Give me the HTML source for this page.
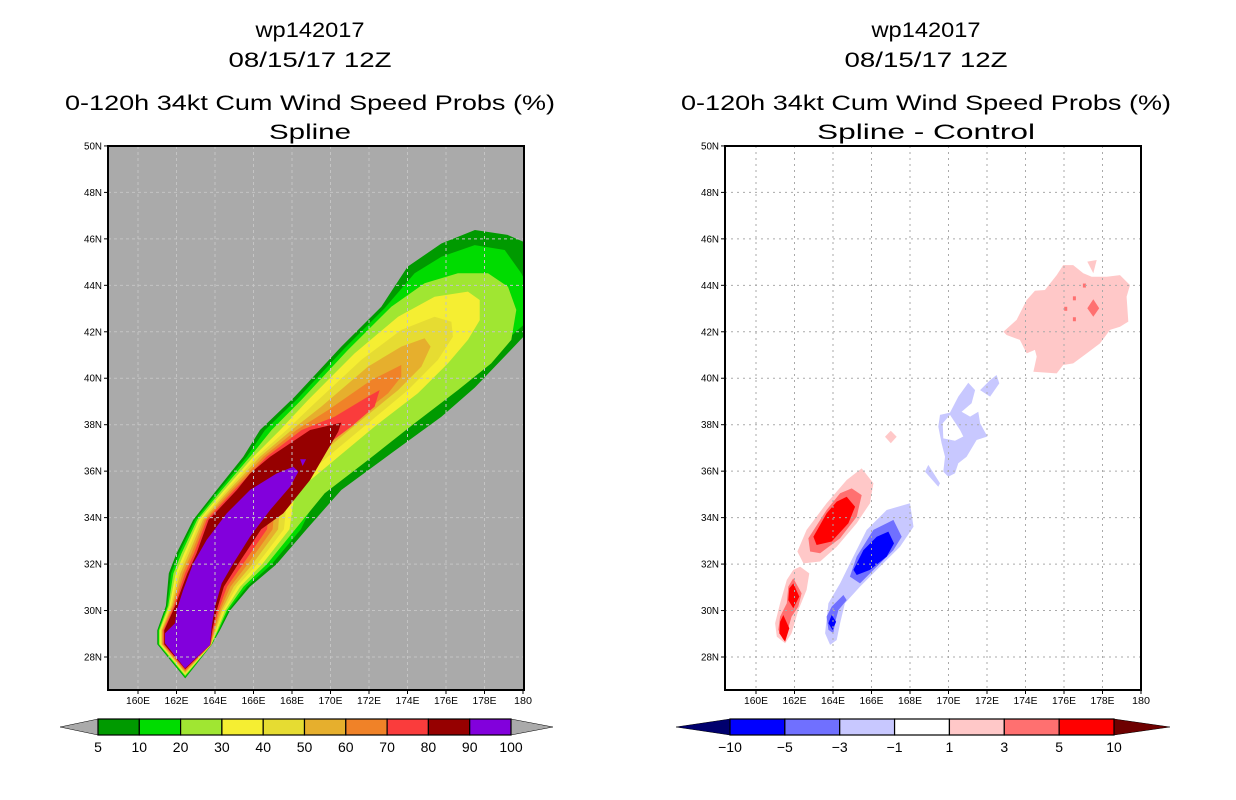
<!DOCTYPE html>
<html><head><meta charset="utf-8"><style>
html,body{margin:0;padding:0;background:#fff;}
svg{display:block;font-family:"Liberation Sans",sans-serif;}
</style></head><body>
<svg id="c" width="1236" height="800" xmlns="http://www.w3.org/2000/svg"></svg>
<script>
// ---- data ----
const latTicks=[28,30,32,34,36,38,40,42,44,46,48,50];
const lonTicks=[160,162,164,166,168,170,172,174,176,178,180];
const leftLevels=["5","10","20","30","40","50","60","70","80","90","100"];
const leftColors=["#009a00","#00dc00","#a0e632","#f5ee32","#e6dc32","#e6af2d","#f08228","#fa3c3c","#960000","#8200dc"];
const rightLevels=["-10","-5","-3","-1","1","3","5","10"];
const rightColors=["#0000ff","#7070ff","#c8c8ff","#ffffff","#ffc8c8","#ff7070","#ff0000"];
// contour polygons [lon,lat]
const c5=[[162.45,27.08],[161.0,28.55],[161.0,29.15],[161.45,30.2],[161.6,31.6],[162.0,32.46],[162.87,33.9],[164.09,35.19],[165.47,36.62],[166.34,37.77],[168.14,39.2],[170.56,41.36],[172.64,43.08],[174.0,44.8],[175.76,45.8],[177.5,46.38],[179.2,46.17],[180.5,45.7],[180.5,42.2],[179.2,41.07],[177.5,39.6],[175.76,38.34],[173.16,36.77],[170.56,35.19],[168.76,33.5],[167.2,32.0],[165.82,31.03],[164.78,30.0],[164.26,29.16],[163.83,28.52]];
const c10=[[162.45,27.13],[161.05,28.55],[161.05,29.15],[161.51,30.2],[161.72,31.6],[162.13,32.46],[162.97,33.9],[164.22,35.19],[165.65,36.62],[166.6,37.77],[168.31,39.14],[170.73,41.29],[172.81,43.01],[174.37,44.52],[175.76,45.23],[177.49,45.73],[179.05,45.52],[179.91,44.52],[180.5,43.51],[180.3,42.5],[178.35,41.07],[175.76,39.35],[173.16,37.77],[169.7,35.62],[168.46,33.5],[166.95,32.0],[165.65,31.03],[164.69,30.0],[164.21,29.16],[163.82,28.52]];
const c20=[[162.45,27.18],[161.09,28.55],[161.09,29.15],[161.57,30.2],[161.84,31.6],[162.26,32.46],[163.07,33.9],[164.35,35.19],[165.82,36.62],[166.94,37.77],[168.48,39.06],[170.91,41.22],[173.16,43.08],[174.89,44.09],[176.62,44.52],[178.18,44.52],[179.22,43.94],[179.65,42.94],[179.39,41.65],[178.35,40.64],[176.62,39.49],[174.37,38.06],[171.95,36.48],[169.7,35.05],[168.17,33.5],[166.7,32.0],[165.48,31.03],[164.61,30.0],[164.16,29.16],[163.81,28.52]];
const c30=[[162.45,27.23],[161.14,28.55],[161.14,29.15],[161.63,30.2],[161.96,31.6],[162.39,32.46],[163.17,33.9],[164.48,35.19],[165.99,36.62],[167.38,37.77],[168.83,39.06],[171.25,41.07],[173.51,42.65],[175.41,43.51],[177.14,43.73],[177.75,43.37],[177.75,42.5],[177.14,41.65],[176.1,40.64],[174.54,39.35],[172.29,37.92],[170.21,36.48],[168.14,35.05],[167.87,33.5],[166.45,32.0],[165.31,31.03],[164.52,30.0],[164.11,29.16],[163.8,28.52]];
const c40=[[162.45,27.28],[161.18,28.55],[161.18,29.15],[161.69,30.2],[162.08,31.6],[162.52,32.46],[163.27,33.9],[164.61,35.19],[166.16,36.62],[167.72,37.77],[169.18,38.92],[171.6,40.79],[173.68,42.08],[175.41,42.65],[176.28,42.43],[176.36,41.79],[175.58,40.79],[174.02,39.49],[171.95,38.06],[169.87,36.63],[167.79,35.12],[167.58,33.5],[166.2,32.0],[165.14,31.03],[164.43,30.0],[164.06,29.16],[163.79,28.52]];
const c50=[[162.45,27.33],[161.23,28.55],[161.23,29.15],[161.75,30.2],[162.2,31.6],[162.65,32.46],[163.37,33.9],[164.74,35.19],[166.34,36.62],[167.98,37.77],[169.52,38.78],[171.95,40.5],[173.68,41.36],[174.89,41.72],[175.2,41.36],[174.72,40.5],[173.51,39.49],[171.6,38.2],[169.52,36.77],[167.44,35.19],[167.28,33.5],[165.95,32.0],[164.97,31.03],[164.35,30.0],[164.01,29.16],[163.78,28.52]];
const c60=[[162.45,27.38],[161.27,28.55],[161.27,29.15],[161.81,30.2],[162.32,31.6],[162.78,32.46],[163.47,33.9],[164.87,35.19],[166.51,36.62],[168.24,37.77],[169.87,38.63],[172.12,39.92],[173.68,40.57],[173.68,40.07],[172.99,39.35],[171.25,38.2],[169.18,36.77],[167.18,35.19],[166.99,33.5],[165.7,32.0],[164.8,31.03],[164.26,30.0],[163.96,29.16],[163.77,28.52]];
const c70=[[162.45,27.43],[161.32,28.55],[161.32,29.15],[161.87,30.2],[162.44,31.6],[162.91,32.46],[163.57,33.9],[165.0,35.19],[166.68,36.62],[168.5,37.77],[170.22,38.35],[171.95,39.21],[172.55,39.49],[172.29,38.78],[171.08,37.92],[169.0,36.63],[166.93,35.12],[166.7,33.5],[165.45,32.0],[164.63,31.03],[164.17,30.0],[163.91,29.16],[163.76,28.52]];
const c80=[[162.45,27.48],[161.36,28.55],[161.36,29.15],[161.93,30.2],[162.56,31.6],[163.04,32.46],[163.67,33.9],[165.13,35.19],[165.82,35.9],[166.86,36.62],[168.94,37.77],[170.56,38.09],[170.4,37.7],[168.94,35.62],[167.55,34.18],[166.4,33.5],[165.2,32.0],[164.46,31.03],[164.09,30.0],[163.86,29.16],[163.75,28.52]];
const c90=[[162.44,27.51],[161.4,28.59],[161.4,29.02],[161.92,29.45],[162.01,30.02],[162.35,30.89],[162.87,32.03],[163.57,33.04],[164.61,34.18],[165.82,35.19],[167.2,35.9],[168.07,36.19],[168.33,35.98],[167.9,35.33],[166.86,34.33],[165.82,33.18],[164.95,32.03],[164.35,31.17],[164.0,30.17],[163.83,29.31],[163.74,28.52]];
const c90b=[[168.42,36.51],[168.73,36.51],[168.55,36.22]];
const leftContours=[c5,c10,c20,c30,c40,c50,c60,c70,c80,c90,c90b];
const leftContourLevel=[0,1,2,3,4,5,6,7,8,9,9];
// difference panel polygons (level index into rightColors)
const dPinkA=[[165.49,36.12],[166.1,35.48],[165.92,34.62],[165.23,33.76],[164.19,32.75],[163.33,32.11],[162.46,32.03],[162.15,32.54],[162.63,33.47],[163.67,34.62],[164.71,35.62]];
const dMidA=[[164.97,35.26],[165.49,34.97],[165.23,34.04],[164.37,33.11],[163.33,32.47],[162.81,32.54],[162.72,33.11],[163.67,34.33],[164.37,35.05]];
const dRedA=[[164.71,34.9],[165.15,34.47],[164.8,33.76],[163.93,32.97],[163.15,32.82],[162.98,33.18],[163.67,34.18],[164.19,34.69]];
const dPinkB=[[162.29,31.89],[162.77,31.6],[162.63,30.89],[162.2,30.02],[161.85,29.02],[161.51,28.59],[161.08,28.88],[160.99,29.45],[161.25,30.31],[161.6,31.32],[161.94,31.75]];
const dMidB=[[161.94,31.39],[162.37,30.74],[162.2,30.17],[161.85,29.74],[161.6,29.02],[161.42,28.73],[161.16,29.17],[161.25,29.74],[161.6,30.31],[161.68,31.03]];
const dRedB1=[[161.94,31.17],[162.25,30.6],[161.94,30.1],[161.68,30.45],[161.73,30.96]];
const dRedB2=[[161.42,29.81],[161.73,29.24],[161.51,28.66],[161.21,29.02],[161.25,29.52]];
const dLBlue=[[168.0,34.62],[168.18,33.61],[167.48,32.75],[166.27,31.75],[165.4,31.03],[164.62,30.31],[164.37,29.45],[164.19,28.73],[163.85,28.52],[163.59,29.02],[163.76,30.31],[164.37,31.17],[164.97,32.18],[165.75,33.47],[166.79,34.33]];
const dMBlue=[[167.14,33.9],[167.57,33.18],[167.14,32.6],[165.92,31.6],[165.4,31.17],[164.88,31.46],[165.23,32.32],[166.1,33.47]];
const dMBlue2=[[164.54,30.67],[164.71,30.45],[164.28,30.02],[164.1,29.45],[164.02,29.02],[163.76,29.17],[163.67,29.74],[163.93,30.17]];
const dBlue=[[166.88,33.4],[167.17,32.89],[166.79,32.32],[165.92,31.75],[165.23,31.53],[165.06,31.75],[165.58,32.6],[166.27,33.18]];
const dBlue2=[[163.93,29.81],[164.16,29.52],[163.98,29.16],[163.76,29.45]];
const dDiamond=[[167.0,37.74],[167.31,37.48],[167.0,37.2],[166.7,37.48]];
const dPinkC=[[172.85,42.0],[173.54,42.51],[174.06,43.37],[174.49,43.77],[175.01,43.8],[175.62,44.44],[175.96,44.87],[176.48,44.87],[177.0,44.52],[177.44,44.37],[178.22,44.37],[178.91,44.44],[179.43,44.01],[179.25,43.51],[179.34,42.44],[178.91,42.22],[178.39,42.08],[177.87,41.5],[177.18,41.07],[176.48,40.64],[175.96,40.57],[175.62,40.21],[174.41,40.28],[174.58,40.93],[174.49,41.22],[174.06,41.07],[173.71,41.65],[173.02,41.86]];
const dPinkTri=[[177.21,45.02],[177.7,45.09],[177.52,44.52]];
const dMidC=[[177.52,43.4],[177.83,43.01],[177.52,42.65],[177.21,43.01]];
const dLB1=[[172.5,40.14],[172.64,39.78],[172.16,39.21],[171.64,39.49],[172.16,39.92]];
const dLB2=[[171.03,39.81],[171.38,39.49],[171.2,38.92],[170.68,38.56],[171.12,38.35],[171.55,38.56],[171.64,38.06],[172.02,37.49],[171.46,37.34],[170.94,36.62],[170.51,36.34],[170.34,35.91],[169.99,35.76],[169.73,35.98],[169.82,36.62],[169.64,37.2],[169.47,37.92],[169.56,38.42],[170.08,38.52],[170.51,39.21]];
const dHole=[[170.08,38.42],[170.6,37.77],[170.77,37.49],[170.34,37.31],[169.73,37.41],[169.7,38.06]];
const dLB3=[[168.95,36.27],[169.56,35.48],[169.47,35.33],[168.78,35.98]];
const rightContours=[dPinkA,dMidA,dRedA,dPinkB,dMidB,dRedB1,dRedB2,dLBlue,dMBlue,dMBlue2,dBlue,dBlue2,dDiamond,dPinkC,dPinkTri,dMidC,dLB1,dLB2,dHole,dLB3];
const rightContourLevel=[4,5,6,4,5,6,6,2,1,1,0,0,4,4,4,5,2,2,3,2];
const redDots=[[177.06,43.99],[176.54,43.44],[176.09,42.99],[176.54,42.54]];

// ---- drawing ----
const NS="http://www.w3.org/2000/svg";
const svg=document.getElementById('c');
function mk(t,a,p){const e=document.createElementNS(NS,t);for(const k in a)e.setAttribute(k,a[k]);(p||svg).appendChild(e);return e;}
const LON0=160,PXDEG=19.25,LAT0=28,PYDEG=23.23,Y28=657;
function panel(x160,left){
  return {x:lon=>x160+(lon-LON0)*PXDEG, y:lat=>Y28-(lat-LAT0)*PYDEG, left:left, right:left+416, top:146, bottom:690};
}
const P1=panel(138,108), P2=panel(756,725);
function ptsStr(P,poly){return poly.map(p=>P.x(p[0]).toFixed(1)+','+P.y(p[1]).toFixed(1)).join(' ');}
function title(cx,lines){
  const ys=[37,67,110,139];
  lines.forEach((t,i)=>{
    const w=t.length*13.6;
    const e=mk('text',{x:cx,y:ys[i],'text-anchor':'middle','font-size':'21','textLength':w.toFixed(0),'lengthAdjust':'spacingAndGlyphs',fill:'#000'});
    e.textContent=t;
    
    
  });
}
function axes(P,gridStyle,name){
  const g=mk('g',{});
  
  
  lonTicks.forEach(l=>{
    const x=P.x(l);
    if(l<180){const gl=mk('line',Object.assign({x1:x,y1:P.top,x2:x,y2:P.bottom},gridStyle),g);
      }
    mk('line',{x1:x,y1:P.bottom,x2:x,y2:P.bottom+4,stroke:'#000','stroke-width':1},g);
    const lab=(l===180?'180':l+'E');
    const t=mk('text',{x:x,y:P.bottom+14,'text-anchor':'middle','font-size':'10',textLength:String(lab.length*6),lengthAdjust:'spacingAndGlyphs'},g);
    t.textContent=lab;
    
    
  });
  latTicks.forEach(l=>{
    const y=P.y(l);
    if(l<50){const gl=mk('line',Object.assign({x1:P.left,y1:y,x2:P.right,y2:y},gridStyle),g);
      }
    mk('line',{x1:P.left-4,y1:y,x2:P.left,y2:y,stroke:'#000','stroke-width':1},g);
    const t=mk('text',{x:P.left-6,y:y+3.5,'text-anchor':'end','font-size':'10',textLength:'18',lengthAdjust:'spacingAndGlyphs'},g);
    t.textContent=l+'N';
    
    
  });
}
function frame(P,name){
  const r=mk('rect',{x:P.left,y:P.top,width:P.right-P.left,height:P.bottom-P.top,fill:'none',stroke:'#000','stroke-width':2});
  
  
}
const defs=mk('defs',{});
[[P1,'clip1'],[P2,'clip2']].forEach(([P,id])=>{const cp=mk('clipPath',{id:id},defs);mk('rect',{x:P.left,y:P.top,width:P.right-P.left,height:P.bottom-P.top},cp);});

// Left panel
title(310,['wp142017','08/15/17 12Z','0-120h 34kt Cum Wind Speed Probs (%)','Spline']);
const bg1=mk('rect',{x:P1.left,y:P1.top,width:P1.right-P1.left,height:P1.bottom-P1.top,fill:'#aaaaaa'});


const g1=mk('g',{'clip-path':'url(#clip1)'});


leftContours.forEach((poly,i)=>{
  const e=mk('polygon',{points:ptsStr(P1,poly),fill:leftColors[leftContourLevel[i]]},g1);
  
  
});
axes(P1,{stroke:'#c4c4c4','stroke-width':1,'stroke-dasharray':'3,3'},'left');
frame(P1,'left-plot');

// Right panel
title(926,['wp142017','08/15/17 12Z','0-120h 34kt Cum Wind Speed Probs (%)','Spline - Control']);
const g2=mk('g',{'clip-path':'url(#clip2)'});


axes(P2,{stroke:'#aaaaaa','stroke-width':1,'stroke-dasharray':'2,4'},'right');
rightContours.forEach((poly,i)=>{
  const e=mk('polygon',{points:ptsStr(P2,poly),fill:rightColors[rightContourLevel[i]]},g2);
  
  
});
redDots.forEach(d=>{
  const e=mk('rect',{x:P2.x(d[0])-1.5,y:P2.y(d[1])-2,width:3,height:4,fill:rightColors[5]},g2);
  
  
});
frame(P2,'right-plot');

// Colorbars
function colorbar(x0,x1,tl,tr,colors,labels,lc,rc,name){
  const g=mk('g',{});
  
  
  const y0=719,y1=735,ym=727,n=colors.length,w=(x1-x0)/n;
  const a=mk('polygon',{points:`${tl},${ym} ${x0},${y0} ${x0},${y1}`,fill:lc,stroke:'#000','stroke-width':0.5},g);
  
  const b=mk('polygon',{points:`${tr},${ym} ${x1},${y0} ${x1},${y1}`,fill:rc,stroke:'#000','stroke-width':0.5},g);
  
  colors.forEach((c,i)=>{
    const r=mk('rect',{x:x0+i*w,y:y0,width:w,height:y1-y0,fill:c,stroke:'#000','stroke-width':1.2},g);
    
    
  });
  labels.forEach((l,i)=>{
    const t=mk('text',{x:x0+i*w,y:752,'text-anchor':'middle','font-size':'14'},g);
    t.textContent=l.replace('-','\u2212');
    
    
  });
}
colorbar(98,511,60,553,leftColors,leftLevels,'#aaaaaa','#aaaaaa','left-colorbar');
colorbar(730,1114,676,1170,rightColors,rightLevels,'#00006e','#6e0000','right-colorbar');
</script>
</body></html>
